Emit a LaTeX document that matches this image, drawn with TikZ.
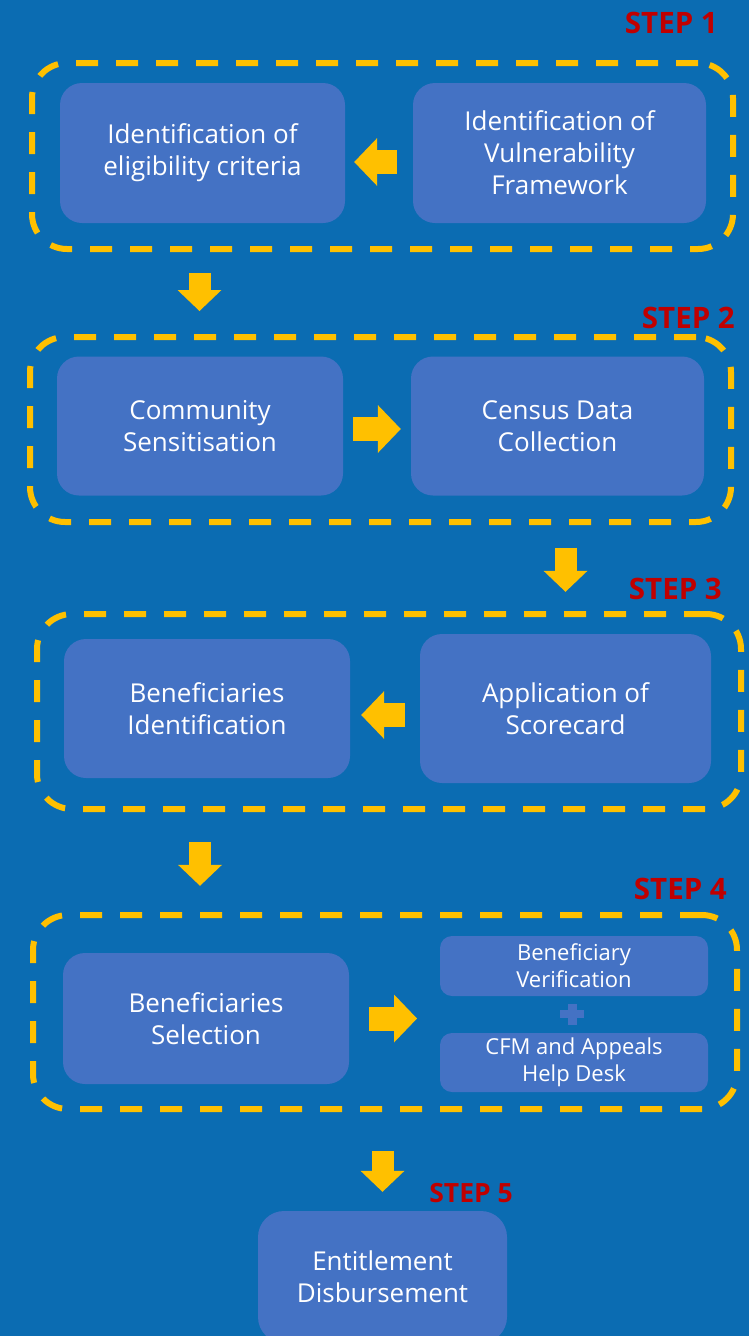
\documentclass[tikz,border=0pt]{standalone}
\usepackage{fontspec}
\setmainfont{Open Sans}
\usepackage{tikz}
\usetikzlibrary{arrows.meta}

\definecolor{bgblue}{RGB}{11,108,178}
\definecolor{boxblue}{RGB}{68,114,196}
\definecolor{frameyellow}{RGB}{255,192,0}
\definecolor{stepred}{RGB}{192,0,0}

\tikzset{
  box/.style={fill=boxblue, text=white, align=center, inner sep=0pt,
    rounded corners=22pt, font=\fontsize{26}{32}\selectfont},
  smallbox/.style={box, rounded corners=12pt, font=\fontsize{22}{27}\selectfont},
  stepframe/.style={draw=frameyellow, line width=6pt, dash pattern=on 22pt off 18pt,
    rounded corners=35pt, inner sep=0pt},
  steplabel/.style={text=stepred, font=\bfseries\fontsize{29.5}{34}\selectfont,
    inner sep=0pt, anchor=base east},
  sidearrow/.style={draw=frameyellow, line width=24pt,
    -{Triangle[length=23pt,width=48pt,line width=0pt]}},
  downarrow/.style={draw=frameyellow, line width=22pt,
    -{Triangle[length=21pt,width=44pt,line width=0pt]}},
}

\begin{document}
\begin{tikzpicture}[x=1pt, y=-1pt]
    \useasboundingbox (0,0) rectangle (749,1336);
    \fill[bgblue] (0,0) rectangle (749,1336);
    \clip (0,0) rectangle (749,1336);

    % Define frames
    \node[stepframe, minimum width=701pt, minimum height=186pt] (F1) at (382.5,156) {};
    \node[stepframe, minimum width=701pt, minimum height=185pt] (F2) at (380.5,429.5) {};
    \node[stepframe, minimum width=704pt, minimum height=195pt] (F3) at (389,711.5) {};
    \node[stepframe, minimum width=704pt, minimum height=194pt] (F4) at (385,1012) {};

    % Define step labels
    \node[steplabel] (S1) at (718,33) {STEP 1};
    \node[steplabel] (S2) at (735,328) {STEP 2};
    \node[steplabel] (S3) at (722,599) {STEP 3};
    \node[steplabel] (S4) at (727,899) {STEP 4};
    \node[steplabel, font=\bfseries\fontsize{26.5}{30}\selectfont] (S5) at (513,1202) {STEP 5};

    % Define nodes
    \node[box, minimum width=285pt, minimum height=140pt] (A1) at (202.5,153)
        {Identification of\\eligibility criteria};
    \node[box, minimum width=293pt, minimum height=140pt] (A2) at (559.5,153)
        {Identification of\\Vulnerability\\Framework};

    \node[box, minimum width=286pt, minimum height=139pt] (B1) at (200,426)
        {Community\\Sensitisation};
    \node[box, minimum width=293pt, minimum height=139pt] (B2) at (557.5,426)
        {Census Data\\Collection};

    \node[box, minimum width=286pt, minimum height=139pt] (C1) at (207,708.5)
        {Beneficiaries\\Identification};
    \node[box, minimum width=291pt, minimum height=149pt] (C2) at (565.5,708.5)
        {Application of\\Scorecard};

    \node[box, minimum width=286pt, minimum height=131pt] (D1) at (206,1018.5)
        {Beneficiaries\\Selection};
    \node[smallbox, minimum width=268pt, minimum height=60pt] (D2) at (574,966)
        {Beneficiary\\Verification};
    \node[smallbox, minimum width=268pt, minimum height=59pt] (D3) at (574,1062.5)
        {CFM and Appeals\\Help Desk};
    \coordinate (Dgrp) at (440,1018.5);

    \node[box, rounded corners=26pt, minimum width=249pt, minimum height=132pt] (E) at (382.5,1277)
        {Entitlement\\Disbursement};

    % Plus between the two small boxes
    \draw[boxblue, line width=8pt] (560,1014) -- (584,1014);
    \draw[boxblue, line width=9pt] (572,1004) -- (572,1025);

    % Draw arrows
    \draw[sidearrow, shorten <=16pt, shorten >=9pt] ([yshift=-9pt]A2.west) -- ([yshift=-9pt]A1.east);
    \draw[sidearrow, shorten <=10pt, shorten >=10pt] ([yshift=-3pt]B1.east) -- ([yshift=-3pt]B2.west);
    \draw[sidearrow, shorten <=15pt, shorten >=11pt] ([yshift=-6.5pt]C2.west) -- ([yshift=-6.5pt]C1.east);
    \draw[sidearrow, shorten <=20pt, shorten >=23pt] (D1.east) -- (Dgrp);

    \draw[downarrow, shorten <=50pt, shorten >=23pt] ([xshift=-3pt]A1.south) -- ([xshift=-3pt]A1.south |- F2.north);
    \draw[downarrow, shorten <=52pt, shorten >=42pt] (C2.north |- B2.south) -- (C2.north);
    \draw[downarrow, shorten <=64pt, shorten >=67pt] ([xshift=-7pt]C1.south) -- ([xshift=-7pt]C1.south |- D1.north);
    \draw[downarrow, shorten <=39pt, shorten >=19pt] (E.north |- F4.south) -- (E.north);
\end{tikzpicture}
\end{document}
